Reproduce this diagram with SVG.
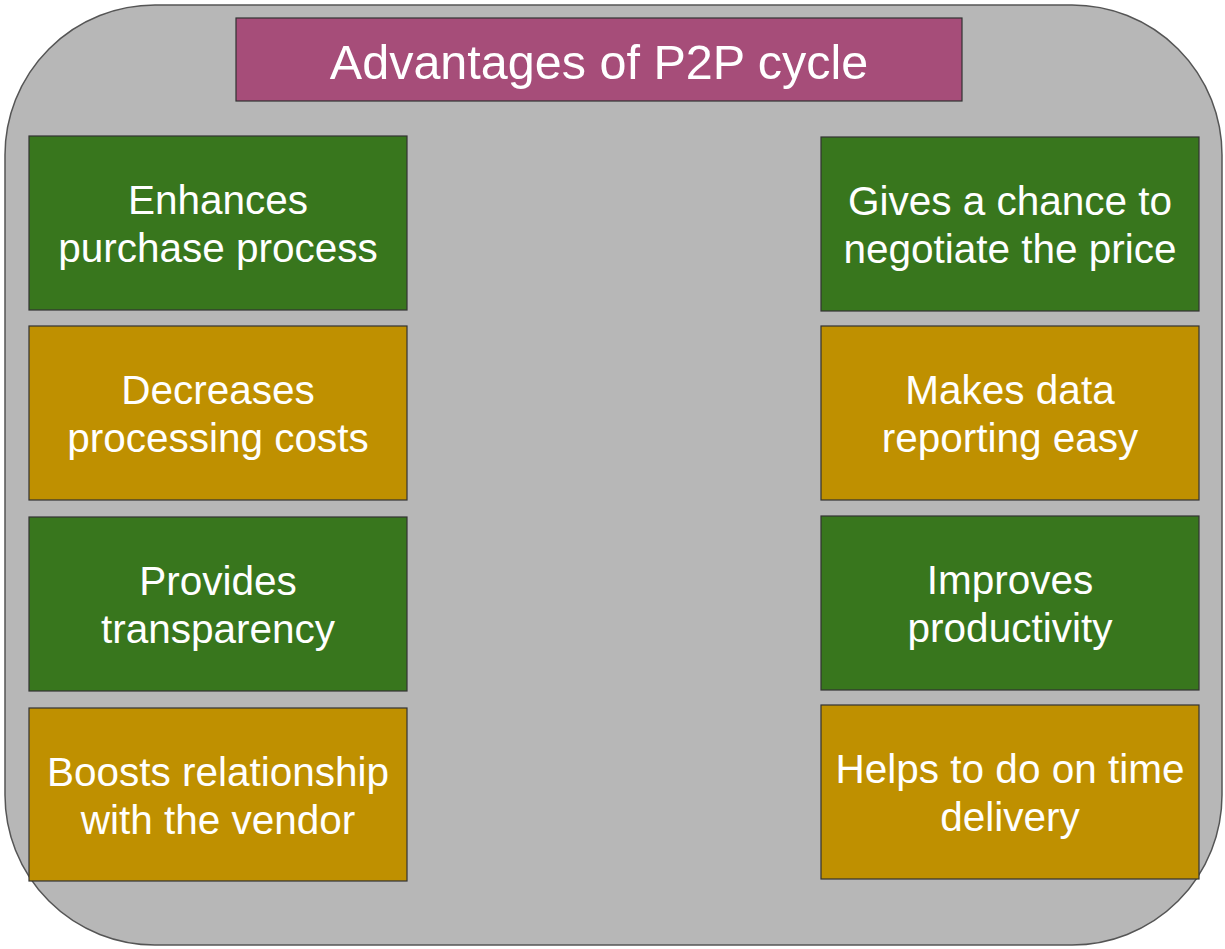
<svg xmlns="http://www.w3.org/2000/svg" width="1225" height="949" viewBox="0 0 1225 949">
<style>
.bg{fill:#b7b7b7;stroke:#555;stroke-width:1.5}
.box{stroke:#333;stroke-width:1.2}
.g{fill:#38761d}
.y{fill:#bf9000}
.m{fill:#a64d79}
text{font-family:"Liberation Sans",Arial,sans-serif;fill:#fff;text-anchor:middle}
.t{font-size:40.5px}
.h{font-size:48.5px}
</style>
<rect class="bg" x="5" y="5" width="1217" height="940" rx="150" ry="150"/>
<g id="title"><rect class="box m" x="236" y="18" width="726" height="83"/><text class="h" x="599" y="79">Advantages of P2P cycle</text></g>
<g id="n1"><rect class="box g" x="29" y="136" width="378" height="174"/><text class="t" x="218" y="214">Enhances</text><text class="t" x="218" y="262">purchase process</text></g>
<g id="n2"><rect class="box y" x="29" y="326" width="378" height="174"/><text class="t" x="218" y="404">Decreases</text><text class="t" x="218" y="452">processing costs</text></g>
<g id="n3"><rect class="box g" x="29" y="517" width="378" height="174"/><text class="t" x="218" y="595">Provides</text><text class="t" x="218" y="643">transparency</text></g>
<g id="n4"><rect class="box y" x="29" y="708" width="378" height="173"/><text class="t" x="218" y="786">Boosts relationship</text><text class="t" x="218" y="834">with the vendor</text></g>
<g id="n5"><rect class="box g" x="821" y="137" width="378" height="174"/><text class="t" x="1010" y="215">Gives a chance to</text><text class="t" x="1010" y="263">negotiate the price</text></g>
<g id="n6"><rect class="box y" x="821" y="326" width="378" height="174"/><text class="t" x="1010" y="404">Makes data</text><text class="t" x="1010" y="452">reporting easy</text></g>
<g id="n7"><rect class="box g" x="821" y="516" width="378" height="174"/><text class="t" x="1010" y="594">Improves</text><text class="t" x="1010" y="642">productivity</text></g>
<g id="n8"><rect class="box y" x="821" y="705" width="378" height="174"/><text class="t" x="1010" y="783">Helps to do on time</text><text class="t" x="1010" y="831">delivery</text></g>
<g id="connectors"/>
</svg>
